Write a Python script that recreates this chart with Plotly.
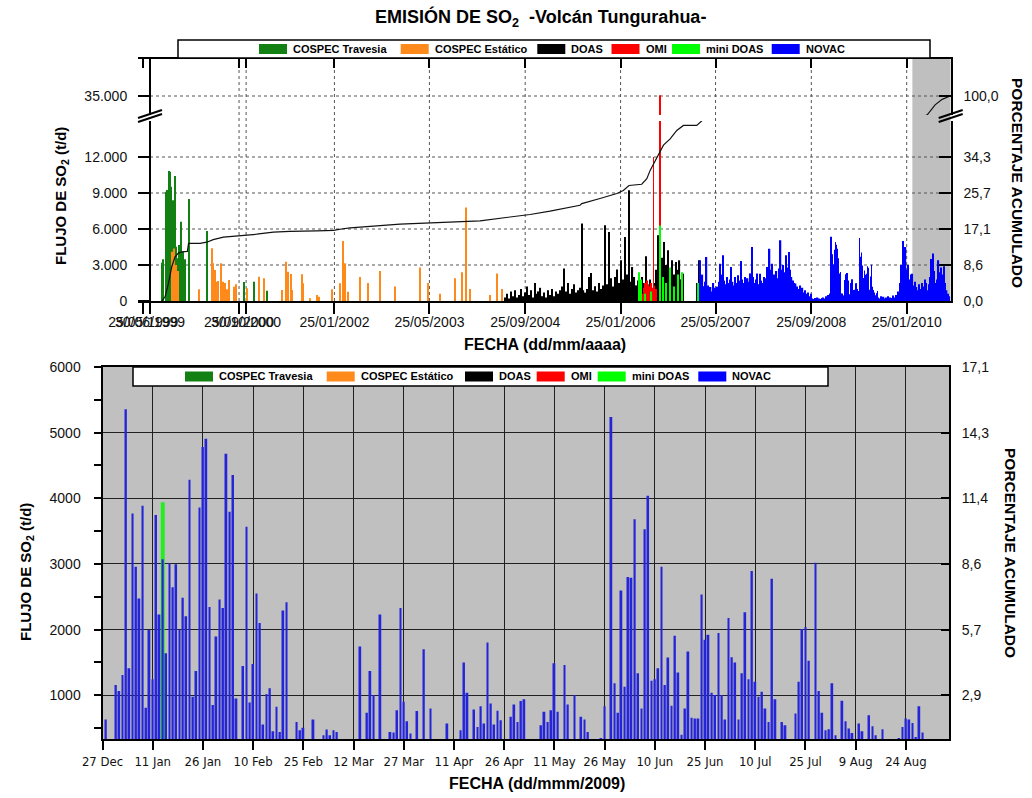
import plotly.graph_objects as go
import pandas as pd

W, H = 1032, 798
def X(px): return px / W
def Y(py): return 1 - py / H

FONT = "Liberation Sans, Arial, sans-serif"
NARROW = "Liberation Sans Narrow, Arial Narrow, DejaVu Sans Condensed, sans-serif"

# ------------------------------------------------------------------ DATA (top panel, 1999-2010)
cospec_trav_dates = ["1999-08-27", "1999-09-04", "1999-09-16", "1999-09-21", "1999-09-28", "1999-10-03",
                     "1999-10-10", "1999-10-15", "1999-10-22", "1999-10-27", "1999-11-03", "1999-11-09",
                     "1999-11-17", "1999-11-23", "1999-11-28", "1999-12-03", "1999-12-12", "1999-12-25",
                     "2000-01-12", "2000-04-13", "2000-10-22", "2000-12-10", "2001-02-13"]
cospec_trav_vals = [3190, 3470, 9100, 9240, 8400, 10830, 10780, 9530, 8400, 5080, 10420, 4530,
                    3560, 4670, 4610, 6610, 4110, 3470, 8490, 5830, 1585, 1610, 860]

cospec_est_dates = ["1999-10-18", "1999-10-29", "1999-11-08", "1999-11-18", "2000-03-04", "2000-05-08",
                    "2000-05-16", "2000-05-25", "2000-06-03", "2000-06-11", "2000-06-23", "2000-07-03",
                    "2000-07-15", "2000-07-24", "2000-08-06", "2000-08-30", "2000-09-09", "2000-11-03",
                    "2001-01-03", "2001-01-30", "2001-05-01", "2001-05-23", "2001-05-31", "2001-06-16",
                    "2001-06-24", "2001-08-11", "2001-08-19", "2001-09-22", "2001-10-30", "2001-11-07",
                    "2002-01-11", "2002-02-22", "2002-03-11", "2002-03-20", "2002-04-06", "2002-06-05",
                    "2002-07-16", "2002-09-15", "2002-11-30", "2003-04-07", "2003-05-18", "2003-07-18",
                    "2003-10-03", "2003-11-08", "2003-11-28", "2003-12-18", "2004-03-30", "2004-05-04",
                    "2004-05-30"]
cospec_est_vals = [4100, 4380, 3000, 2500, 975, 4390, 3140, 2580, 1610, 1670, 3140, 1610,
                   1500, 975, 1750, 1195, 1390, 1060, 2030, 1890, 915, 3280, 2445, 2250,
                   915, 2220, 1470, 220, 500, 360, 975, 1470, 5000, 3140, 780, 2000,
                   1500, 2500, 1200, 2800, 1500, 600, 1900, 2400, 7800, 1000, 500, 2300,
                   1000]

# DOAS: one value every 10 days from 2004-06-15
doas_start = "2004-06-15"
doas_vals = [300, 600, 200, 800, 400, 900, 300, 500, 1000, 400,
             700, 1200, 500, 900, 300, 1500, 600, 800, 1100, 400,
             700, 300, 900, 500, 1000, 400, 800, 600, 900, 1200,
             2700, 800, 1500, 600, 1000, 1400, 700, 900, 1100, 6450,
             900, 700, 1000, 2000, 2330, 900, 1220, 800, 1500, 1000,
             1300, 6310, 1400, 5750, 1900, 1200, 2000, 2620, 1500, 3390,
             1800, 5330, 2200, 9220, 1600, 2830, 2000, 1300, 1700, 1100,
             2000, 1500, 3720, 1200, 1800, 900, 1500, 2600, 5470, 2800,
             3600, 4920, 3000, 4220, 2500, 3390, 2200, 3250, 2600, 3390,
             1800, 2280, 0, 0, 0, 0, 0, 0, 1500, 3390,
             2000, 1200, 600]

omi_dates = ["2006-05-20", "2006-05-24", "2006-05-28", "2006-06-01", "2006-06-05", "2006-06-09",
             "2006-06-13", "2006-06-17", "2006-06-21", "2006-06-25", "2006-06-29", "2006-07-03",
             "2006-07-07", "2006-07-12", "2006-07-16", "2006-07-20", "2006-07-24", "2006-07-28",
             "2006-08-15"]
omi_vals = [600, 1100, 1500, 900, 1300, 1700, 1000, 1400, 1200, 800, 1500, 1100,
            900, 12000, 1300, 700, 1000, 600, 35100]

minidoas_dates = ["2006-05-01", "2006-05-05", "2006-05-10", "2006-06-01", "2006-07-01", "2006-08-16",
                  "2006-08-28", "2006-09-15", "2006-10-05", "2006-10-25", "2006-11-15", "2006-12-05",
                  "2007-02-25"]
minidoas_vals = [2400, 1200, 1800, 600, 800, 6300, 2000, 1500, 2800, 1200, 2200, 2400, 1500]

# NOVAC weekly values 2007-03-05 .. 2008-12-22
novac_w1_start = "2007-03-05"
novac_w1_vals = [3390, 1500, 2200, 1200, 1600, 3670, 1300, 1000, 1170, 800,
                 1500, 1100, 900, 1200, 1600, 3110, 2200, 3810, 1700, 1400,
                 2000, 1500, 1800, 2830, 1600, 1300, 2000, 1500, 2140, 1700,
                 3340, 1800, 1500, 2000, 1300, 1900, 1600, 2300, 4500, 2000,
                 1500, 1800, 2300, 1400, 2280, 1700, 1500, 2000, 1900, 2830,
                 2200, 4360, 2600, 3110, 2200, 2000, 2500, 1900, 2700, 5060,
                 2600, 3000, 2400, 3810, 2800, 4080, 2600, 2000, 1700, 1500,
                 1450, 1200, 1000, 1300, 900, 1100, 700, 890, 600, 700,
                 400, 600, 200, 150, 250, 100, 300, 200, 150, 250,
                 300, 200, 400, 300, 500]
# NOVAC weekly values 2009-09-01 .. 2010-09
novac_w2_start = "2009-09-01"
novac_w2_vals = [300, 200, 400, 250, 350, 200, 300, 400, 200, 300,
                 250, 450, 300, 500, 400, 800, 1500, 3000, 5000, 3800,
                 4500, 2600, 3000, 1800, 2200, 2280, 1300, 1600, 1170, 900,
                 1400, 1000, 1500, 1200, 1800, 1500, 900, 1400, 2000, 3500,
                 3950, 2500, 1500, 1800, 3400, 2400, 2800, 2200, 2900, 1500,
                 890, 600, 400]

# NOVAC daily values 2009 (bottom panel, also part of top panel)
novac_2009_dates = [
    "2008-12-28", "2008-12-31", "2009-01-01", "2009-01-02", "2009-01-03", "2009-01-04", "2009-01-05",
    "2009-01-06", "2009-01-07", "2009-01-08", "2009-01-09", "2009-01-10", "2009-01-11", "2009-01-12",
    "2009-01-13", "2009-01-14", "2009-01-15", "2009-01-16", "2009-01-17", "2009-01-18", "2009-01-19",
    "2009-01-20", "2009-01-21", "2009-01-22", "2009-01-23", "2009-01-24", "2009-01-25", "2009-01-26",
    "2009-01-27", "2009-01-28", "2009-01-29", "2009-01-30", "2009-01-31", "2009-02-01", "2009-02-02",
    "2009-02-03", "2009-02-04", "2009-02-05", "2009-02-07", "2009-02-08", "2009-02-09", "2009-02-10",
    "2009-02-11", "2009-02-12", "2009-02-13", "2009-02-14", "2009-02-15", "2009-02-16", "2009-02-17",
    "2009-02-18", "2009-02-19", "2009-02-20", "2009-02-23", "2009-02-24", "2009-02-25", "2009-02-28",
    "2009-03-03", "2009-03-04", "2009-03-05", "2009-03-06", "2009-03-07", "2009-03-14", "2009-03-16",
    "2009-03-17", "2009-03-18", "2009-03-20", "2009-03-23", "2009-03-24", "2009-03-25", "2009-03-26",
    "2009-03-27", "2009-03-28", "2009-03-29", "2009-03-31", "2009-04-02", "2009-04-04", "2009-04-09",
    "2009-04-13", "2009-04-14", "2009-04-15", "2009-04-17", "2009-04-18", "2009-04-19", "2009-04-20",
    "2009-04-21", "2009-04-22", "2009-04-23", "2009-04-24", "2009-04-25", "2009-04-28", "2009-04-29",
    "2009-04-30", "2009-05-01", "2009-05-02", "2009-05-07", "2009-05-08", "2009-05-09", "2009-05-10",
    "2009-05-11", "2009-05-12", "2009-05-14", "2009-05-15", "2009-05-17", "2009-05-19", "2009-05-20",
    "2009-05-21", "2009-05-25", "2009-05-26", "2009-05-28", "2009-05-29", "2009-05-30", "2009-05-31",
    "2009-06-01", "2009-06-02", "2009-06-03", "2009-06-04", "2009-06-05", "2009-06-06", "2009-06-07",
    "2009-06-08", "2009-06-09", "2009-06-10", "2009-06-11", "2009-06-12", "2009-06-13", "2009-06-14",
    "2009-06-15", "2009-06-16", "2009-06-17", "2009-06-18", "2009-06-19", "2009-06-20", "2009-06-21",
    "2009-06-22", "2009-06-23", "2009-06-24", "2009-06-25", "2009-06-26", "2009-06-27", "2009-06-28",
    "2009-06-29", "2009-06-30", "2009-07-01", "2009-07-02", "2009-07-03", "2009-07-04", "2009-07-05",
    "2009-07-06", "2009-07-07", "2009-07-08", "2009-07-09", "2009-07-10", "2009-07-11", "2009-07-12",
    "2009-07-13", "2009-07-14", "2009-07-15", "2009-07-16", "2009-07-18", "2009-07-19", "2009-07-22",
    "2009-07-23", "2009-07-24", "2009-07-25", "2009-07-26", "2009-07-28", "2009-07-29", "2009-07-30",
    "2009-07-31", "2009-08-01", "2009-08-02", "2009-08-03", "2009-08-05", "2009-08-06", "2009-08-07",
    "2009-08-08", "2009-08-10", "2009-08-11", "2009-08-13", "2009-08-14", "2009-08-15", "2009-08-17",
    "2009-08-22", "2009-08-23", "2009-08-24", "2009-08-25", "2009-08-26", "2009-08-27", "2009-08-28",
    "2009-08-29"]
novac_2009_vals = [
    631, 1157, 1065, 1310, 5358, 1412, 3770,
    2959, 2474, 3888, 810, 1999, 1244, 3745,
    2229, 3071, 1642, 3010, 2647, 2994, 1999,
    2484, 2203, 4281, 978, 1371, 3862, 4781,
    4908, 2346, 851, 1897, 2458, 2331, 4679,
    3796, 4357, 953, 1448, 3566, 891, 1478,
    2550, 2101, 555, 1019, 1106, 453, 825,
    442, 2290, 2418, 595, 468, 504, 631,
    391, 478, 391, 468, 442, 1744, 733,
    1371, 1004, 2229, 442, 432, 774, 2331,
    902, 606, 417, 759, 1703, 800, 570,
    468, 1499, 1040, 784, 519, 835, 570,
    1805, 876, 555, 764, 621, 672, 861,
    595, 912, 938, 545, 749, 595, 774,
    1489, 749, 1463, 861, 1004, 672, 631,
    442, 351, 835, 5240, 1182, 733, 2596,
    1131, 2800, 2790, 3683, 1336, 800, 3530,
    4041, 1223, 1244, 1412, 2959, 1157, 1575,
    840, 1907, 1346, 401, 800, 1667, 657,
    647, 647, 2535, 1846, 1923, 1040, 1004,
    1948, 1004, 631, 2178, 1581, 1499, 631,
    1336, 2265, 1244, 2892, 1208, 978, 1055,
    800, 595, 2775, 938, 595, 545, 723,
    1208, 2009, 2040, 1525, 3020, 1065, 733,
    468, 483, 1182, 391, 917, 606, 494,
    427, 570, 453, 698, 529, 391, 483,
    351, 519, 647, 631, 580, 366, 835,
    432]

minidoas_2009_dates = ["2009-01-14"]
minidoas_2009_vals = [3939]

# accumulated percentage (right axis)
cum_dates = ["1999-08-27", "1999-09-13", "1999-09-30", "1999-10-17", "1999-11-03", "1999-11-20",
             "1999-12-07", "2000-01-05", "2000-01-11", "2000-03-10", "2000-04-13", "2000-05-16",
             "2000-07-07", "2000-08-27", "2000-11-03", "2000-12-24", "2001-03-19", "2001-06-12",
             "2001-10-27", "2002-01-19", "2002-03-11", "2002-04-15", "2002-12-26", "2004-02-08",
             "2004-10-20", "2005-01-30", "2005-07-02", "2005-07-11", "2005-10-12", "2006-01-06",
             "2006-02-08", "2006-03-09", "2006-05-13", "2006-06-08", "2006-06-25", "2006-07-12",
             "2006-07-29", "2006-09-01", "2006-10-05", "2006-11-08", "2006-12-12", "2007-02-18",
             "2007-03-16", "2007-09-01", "2008-06-01", "2009-06-01", "2010-05-10", "2010-06-19",
             "2010-07-25", "2010-09-04"]
cum_pct = [0, 1.0, 4.1, 8.1, 10.5, 11.4, 11.7, 11.8, 13.7, 13.7, 14.0, 14.6,
           15.2, 15.4, 15.6, 15.9, 16.4, 16.6, 16.7, 16.8, 17.2, 17.4, 18.3, 19.1,
           20.6, 21.4, 22.8, 23.2, 24.4, 25.6, 26.3, 27.5, 27.8, 29.1, 31.1, 32.7,
           34.3, 37.1, 38.6, 40.6, 41.8, 41.8, 42.9, 52, 65, 80, 91.5, 96,
           98.5, 100]

# axis ticks
top_tick_dates = ["1999-05-25", "1999-06-28", "2000-09-25", "2000-10-31", "2002-01-25", "2003-05-25",
                  "2004-09-25", "2006-01-25", "2007-05-25", "2008-09-25", "2010-01-25"]
top_tick_text = ["25/05/1999", "30/06/1999", "25/09/2000", "30/10/2000", "25/01/2002", "25/05/2003",
                 "25/09/2004", "25/01/2006", "25/05/2007", "25/09/2008", "25/01/2010"]
top_grid_dates = top_tick_dates[2:]
flux_ticks = [0, 3000, 6000, 9000, 12000]
flux_tick_text = ["0", "3.000", "6.000", "9.000", "12.000"]
pct_tick_text = ["0,0", "8,6", "17,1", "25,7", "34,3"]
upper_flux_ticks = [35000]
upper_flux_text = ["35.000"]
upper_pct_text = ["100,0"]
PCT_FACTOR = 350.0   # t/d per 1 % of accumulated emission

bot_tick_dates = ["2008-12-27", "2009-01-11", "2009-01-26", "2009-02-10", "2009-02-25", "2009-03-12",
                  "2009-03-27", "2009-04-11", "2009-04-26", "2009-05-11", "2009-05-26", "2009-06-10",
                  "2009-06-25", "2009-07-10", "2009-07-25", "2009-08-09", "2009-08-24"]
bot_tick_text = ["27 Dec", "11 Jan", "26 Jan", "10 Feb", "25 Feb", "12 Mar", "27 Mar", "11 Apr",
                 "26 Apr", "11 May", "26 May", "10 Jun", "25 Jun", "10 Jul", "25 Jul", "9 Aug", "24 Aug"]
bot_flux_ticks = [1000, 2000, 3000, 4000, 5000, 6000]
bot_minor_ticks = [500, 1500, 2500, 3500, 4500, 5500]
bot_pct_text = ["2,9", "5,7", "8,6", "11,4", "14,3", "17,1"]

legend_names = ["COSPEC Travesia", "COSPEC Estático", "DOAS", "OMI", "mini DOAS", "NOVAC"]
legend_colors = ["#138013", "#ff8a1c", "#000000", "#ff0000", "#00ff00", "#0000ff"]

# ------------------------------------------------------------------ FIGURE
DAY = 86400000
fig = go.Figure()

doas_dates = pd.date_range(doas_start, periods=len(doas_vals), freq="10D")
nw1_dates = pd.date_range(novac_w1_start, periods=len(novac_w1_vals), freq="7D")
nw2_dates = pd.date_range(novac_w2_start, periods=len(novac_w2_vals), freq="7D")

top_series = [
    (legend_names[0], cospec_trav_dates, cospec_trav_vals, legend_colors[0], 5),
    (legend_names[1], cospec_est_dates, cospec_est_vals, legend_colors[1], 5),
    (legend_names[2], doas_dates, doas_vals, legend_colors[2], 6),
    (legend_names[3], omi_dates, omi_vals, legend_colors[3], 4),
    (legend_names[4], minidoas_dates, minidoas_vals, legend_colors[4], 5),
    (legend_names[5], nw1_dates, novac_w1_vals, legend_colors[5], 7),
    (legend_names[5], novac_2009_dates, novac_2009_vals, legend_colors[5], 2),
    (legend_names[5], nw2_dates, novac_w2_vals, legend_colors[5], 7),
]

for xa, ya in (("x", "y"), ("x2", "y3")):
    for name, d, v, c, wd in top_series:
        fig.add_trace(go.Bar(x=d, y=v, name=name, width=wd * DAY, xaxis=xa, yaxis=ya,
                             marker=dict(color=c, line=dict(width=0)), showlegend=False))

for xa, ya in (("x", "y2"), ("x2", "y4"), ("x3", "y6")):
    fig.add_trace(go.Scatter(x=cum_dates, y=cum_pct, mode="lines", xaxis=xa, yaxis=ya,
                             line=dict(color="#111111", width=1.2), showlegend=False,
                             name="Porcentaje acumulado"))

# bottom panel
fig.add_trace(go.Bar(x=minidoas_2009_dates, y=minidoas_2009_vals, name="mini DOAS", width=1.2 * DAY,
                     xaxis="x3", yaxis="y5", marker=dict(color="#22ee22", line=dict(width=0)),
                     showlegend=False))
fig.add_trace(go.Bar(x=novac_2009_dates, y=novac_2009_vals, name="NOVAC", width=0.55 * DAY,
                     xaxis="x3", yaxis="y5", marker=dict(color="#2424d8", line=dict(width=0)),
                     showlegend=False))

# ------------------------------------------------------------------ AXES
TOP_L, TOP_R = 138, 950.7
LOW_B, LOW_T = 301, 121
UP_B, UP_T = 115, 58.5
low_max = (LOW_B - LOW_T) * 3000 / 36.0
up_min = 32000
up_max = up_min + (UP_B - UP_T) * 3000 / (UP_B - 96.0)
x_range = ["1999-04-28", "2010-09-06 16:00"]

axis_common = dict(showline=True, linecolor="black", linewidth=2, tickcolor="black", tickwidth=2,
                   zeroline=False, showgrid=False, automargin=False)
tfont = dict(family=FONT, size=14, color="#111111")

fig.update_layout(
    width=W, height=H, margin=dict(l=0, r=0, t=0, b=0),
    paper_bgcolor="white", plot_bgcolor="white", barmode="overlay", showlegend=False,
    font=dict(family=FONT, size=14, color="black"),
    xaxis=dict(domain=[X(TOP_L), X(TOP_R)], anchor="y", type="date", range=x_range,
               tickmode="array", tickvals=top_tick_dates, ticktext=top_tick_text, tickangle=0,
               ticks="outside", ticklen=11, ticklabelstandoff=-4, tickfont=tfont, **axis_common),
    yaxis=dict(domain=[Y(LOW_B), Y(LOW_T)], anchor="free", position=X(150), range=[0, low_max],
               tickmode="array", tickvals=flux_ticks, ticktext=flux_tick_text, ticklabelstandoff=8,
               ticks="outside", ticklen=11, tickfont=tfont, **axis_common),
    yaxis2=dict(overlaying="y", side="right", anchor="x", range=[0, low_max / PCT_FACTOR],
                tickmode="array", tickvals=[t / PCT_FACTOR for t in flux_ticks], ticktext=pct_tick_text,
                ticks="inside", ticklen=12, ticklabelstandoff=8, tickfont=tfont, **axis_common),
    xaxis2=dict(domain=[X(TOP_L), X(TOP_R)], anchor="y3", side="top", type="date", matches="x",
                range=x_range, tickmode="array", tickvals=top_tick_dates, showticklabels=False,
                ticks="inside", ticklen=9, **axis_common),
    yaxis3=dict(domain=[Y(UP_B), Y(UP_T)], anchor="free", position=X(150), range=[up_min, up_max],
                tickmode="array", tickvals=upper_flux_ticks, ticktext=upper_flux_text, ticklabelstandoff=8,
                ticks="outside", ticklen=11, tickfont=tfont, **axis_common),
    yaxis4=dict(overlaying="y3", side="right", anchor="x2", range=[up_min / PCT_FACTOR, up_max / PCT_FACTOR],
                tickmode="array", tickvals=[t / PCT_FACTOR for t in upper_flux_ticks], ticktext=upper_pct_text,
                ticks="inside", ticklen=12, ticklabelstandoff=8, tickfont=tfont, **axis_common),
)

BOT_L, BOT_R = 102.5, 949
BOT_B, BOT_T = 739.3, 367
bot_min = 6000 - (BOT_B - BOT_T) / 65.66 * 1000
fig.update_layout(
    xaxis3=dict(domain=[X(BOT_L), X(BOT_R)], anchor="y5", type="date",
                range=["2008-12-27", "2009-09-05 21:00"], tickmode="array", tickangle=0,
                tickvals=bot_tick_dates, ticktext=bot_tick_text, ticks="outside", ticklen=9,
                tickfont=dict(family=NARROW, size=13, color="#111111"),
                showline=True, linecolor="black", linewidth=2, mirror=True, tickcolor="black",
                tickwidth=1.5, zeroline=False, showgrid=True, gridcolor="#202020", gridwidth=1.2,
                automargin=False),
    yaxis5=dict(domain=[Y(BOT_B), Y(BOT_T)], anchor="x3", range=[bot_min, 6000], tickmode="array",
                tickvals=bot_flux_ticks, ticktext=[str(t) for t in bot_flux_ticks], ticks="outside",
                ticklen=7, ticklabelstandoff=10, tickfont=tfont, showline=True, linecolor="black",
                linewidth=2, tickcolor="black", tickwidth=1.5, zeroline=False, showgrid=True,
                gridcolor="#202020", gridwidth=1.2, automargin=False,
                minor=dict(tickvals=bot_minor_ticks, ticks="outside", ticklen=7, tickcolor="black",
                           showgrid=False)),
    yaxis6=dict(overlaying="y5", side="right", anchor="x3", range=[bot_min / PCT_FACTOR, 6000 / PCT_FACTOR],
                tickmode="array", tickvals=[t / PCT_FACTOR for t in bot_flux_ticks], ticktext=bot_pct_text,
                ticks="inside", ticklen=8, ticklabelstandoff=8, tickfont=tfont, **axis_common),
)

# ------------------------------------------------------------------ SHAPES
shapes = []
shapes.append(dict(type="rect", xref="x", yref="paper", x0="2010-02-23", x1=x_range[1],
                   y0=Y(LOW_B), y1=Y(UP_T), fillcolor="#bfbfbf", line=dict(width=0), layer="below"))
for d in top_grid_dates:
    shapes.append(dict(type="line", xref="x", yref="paper", x0=d, x1=d, y0=Y(LOW_B), y1=Y(UP_T),
                       line=dict(color="#555555", width=1, dash="dot"), layer="below"))
for v in flux_ticks[1:]:
    shapes.append(dict(type="line", xref="paper", yref="y", x0=X(150), x1=X(TOP_R), y0=v, y1=v,
                       line=dict(color="#555555", width=1, dash="dot"), layer="below"))
for v in upper_flux_ticks:
    shapes.append(dict(type="line", xref="paper", yref="y3", x0=X(150), x1=X(TOP_R), y0=v, y1=v,
                       line=dict(color="#555555", width=1, dash="dot"), layer="below"))
shapes.append(dict(type="rect", xref="x3 domain", yref="y5 domain", x0=0, x1=1, y0=0, y1=1,
                   fillcolor="#c0c0c0", line=dict(width=0), layer="below"))
for cx in (150, TOP_R):
    for dy in (0, 4):
        shapes.append(dict(type="line", xref="paper", yref="paper", x0=X(cx - 12), x1=X(cx + 12),
                           y0=Y(122 - dy), y1=Y(114 - dy), line=dict(color="black", width=2)))

annotations = []

def add_legend(box, sw_left, sw_top, sw_h):
    x0, y0, x1, y1 = box
    shapes.append(dict(type="rect", xref="paper", yref="paper", x0=X(x0), x1=X(x1), y0=Y(y1), y1=Y(y0),
                       fillcolor="white", line=dict(color="black", width=1.5), layer="above"))
    for name, col, sx in zip(legend_names, legend_colors, sw_left):
        shapes.append(dict(type="rect", xref="paper", yref="paper", x0=X(sx), x1=X(sx + 28),
                           y0=Y(sw_top + sw_h), y1=Y(sw_top), fillcolor=col, line=dict(width=0),
                           layer="above"))
        annotations.append(dict(xref="paper", yref="paper", x=X(sx + 32), y=Y(sw_top + sw_h / 2),
                                xanchor="left", yanchor="middle", showarrow=False,
                                text="<b>%s</b>" % name, font=dict(family=FONT, size=11, color="black")))

add_legend((178, 40, 930, 58), [259, 400.7, 537.3, 611.5, 672, 771.7], 44, 10)
add_legend((133, 367, 828, 386), [185, 326.7, 465, 536.7, 597.7, 698.3], 371.5, 10)

def text(px, py, s, size, angle=0):
    annotations.append(dict(xref="paper", yref="paper", x=X(px), y=Y(py), text=s, showarrow=False,
                            xanchor="center", yanchor="middle", textangle=angle,
                            font=dict(family=FONT, size=size, color="black")))

text(540, 18, "<b>EMISIÓN DE SO<sub>2</sub>  -Volcán Tungurahua-</b>", 18)
text(61, 196, "<b>FLUJO DE SO<sub>2</sub> (t/d)</b>", 15, -90)
text(1018, 183, "<b>PORCENTAJE ACUMULADO</b>", 15.5, 90)
text(545, 345, "<b>FECHA (dd/mm/aaaa)</b>", 16)
text(26, 572, "<b>FLUJO DE SO<sub>2</sub> (t/d)</b>", 15, -90)
text(1011, 553, "<b>PORCENTAJE ACUMULADO</b>", 15.5, 90)
text(537, 783, "<b>FECHA (dd/mmm/2009)</b>", 16)

fig.update_layout(shapes=shapes, annotations=annotations)
fig.write_html("out.html", config={"displayModeBar": False},
               post_script="document.body.style.margin='0px';")
